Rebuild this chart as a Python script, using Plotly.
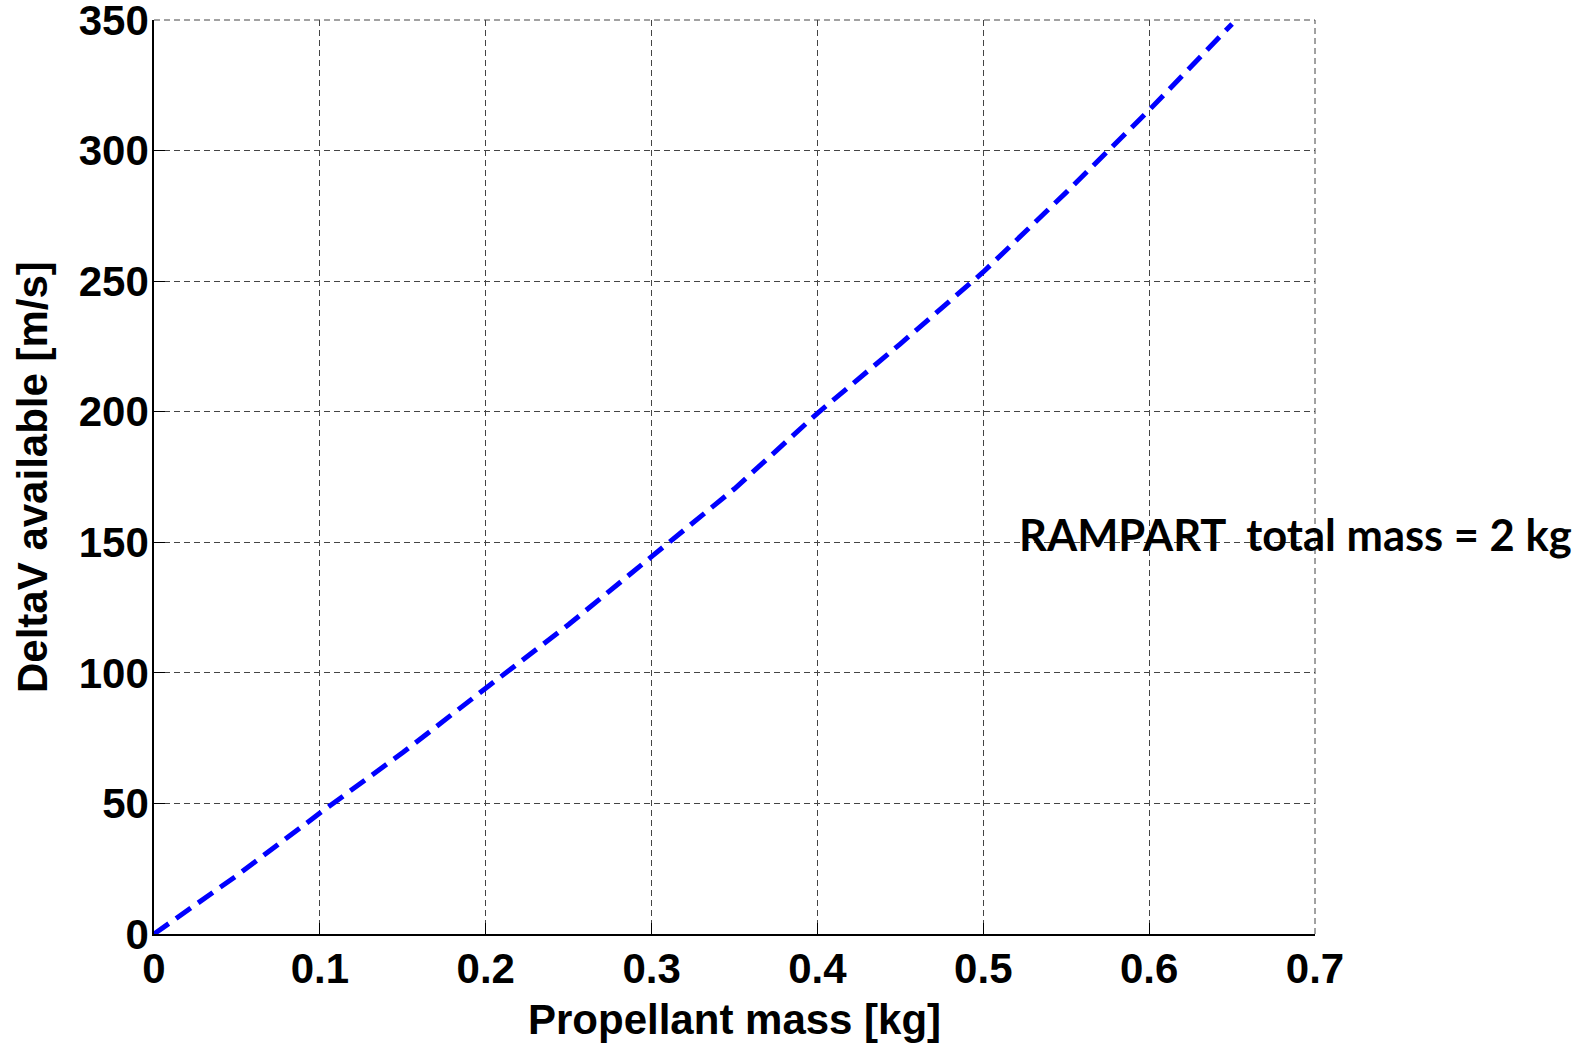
import plotly.graph_objects as go

# Data
propellant_mass = [0.0, 0.05, 0.10, 0.15, 0.20, 0.25, 0.30, 0.35, 0.40, 0.45, 0.50, 0.55, 0.60, 0.65]
delta_v = [0.0, 22.4, 46.3, 69.5, 94.1, 118.5, 144.5, 170.5, 199.4, 226.0, 253.5, 284.0, 315.5, 348.5]

x_ticks = [0, 0.1, 0.2, 0.3, 0.4, 0.5, 0.6, 0.7]
x_tick_labels = ["0", "0.1", "0.2", "0.3", "0.4", "0.5", "0.6", "0.7"]
y_ticks = [0, 50, 100, 150, 200, 250, 300, 350]
y_tick_labels = ["0", "50", "100", "150", "200", "250", "300", "350"]

x_title = "Propellant mass [kg]"
y_title = "DeltaV available [m/s]"
note = "RAMPART\u00a0\u00a0total mass = 2 kg"

W, H = 1586, 1046
L, R, T, B = 154, 271, 20, 112

fig = go.Figure()
fig.add_trace(go.Scatter(
    x=propellant_mass, y=delta_v, mode="lines",
    line=dict(color="#0000FF", width=5, dash="18px,9px"),
    showlegend=False,
))

tick_font = dict(family="Liberation Sans, Arial, sans-serif", size=42, color="black", weight="bold")
grid_common = dict(showgrid=True, gridcolor="#444444", gridwidth=1, griddash="6px,4px",
                   zeroline=False, showline=True, linecolor="black", linewidth=1.5,
                   ticks="inside", ticklen=11, tickcolor="black", tickwidth=1,
                   tickfont=tick_font, ticklabeloverflow="allow", automargin=False)

fig.update_xaxes(range=[0, 0.7], tickvals=x_ticks, ticktext=x_tick_labels,
                 ticklabelstandoff=-3, **grid_common)
fig.update_yaxes(range=[0, 350.001], tickvals=y_ticks, ticktext=y_tick_labels,
                 ticklabelstandoff=-5, **grid_common)

# top and right dashed frame (grid-like) lines
for sh in [dict(x0=0, x1=1, y0=1, y1=1), dict(x0=1, x1=1, y0=0, y1=1)]:
    fig.add_shape(type="line", xref="paper", yref="paper",
                  line=dict(color="#444444", width=1, dash="6px,4px"), **sh)

title_font = dict(family="Liberation Sans, Arial, sans-serif", size=42, color="black", weight="bold")
fig.add_annotation(text=x_title, xref="paper", yref="paper", x=0.5, y=-(1020 - 934) / 914,
                   xanchor="center", yanchor="middle", showarrow=False, font=title_font)
fig.add_annotation(text=y_title, xref="paper", yref="paper", x=-(154 - 32) / 1161, y=0.5,
                   xanchor="center", yanchor="middle", textangle=-90, showarrow=False, font=title_font)
fig.add_annotation(text=note, xref="paper", yref="paper", x=(1017 - 154) / 1161, y=(934 - 534) / 914,
                   xanchor="left", yanchor="middle", showarrow=False,
                   font=dict(family="Lato, Carlito, Calibri, sans-serif", size=43.5, color="black", weight="bold"))

fig.update_layout(width=W, height=H, margin=dict(l=L, r=R, t=T, b=B, pad=0, autoexpand=False),
                  paper_bgcolor="white", plot_bgcolor="white")

fig.write_html("out.html")
